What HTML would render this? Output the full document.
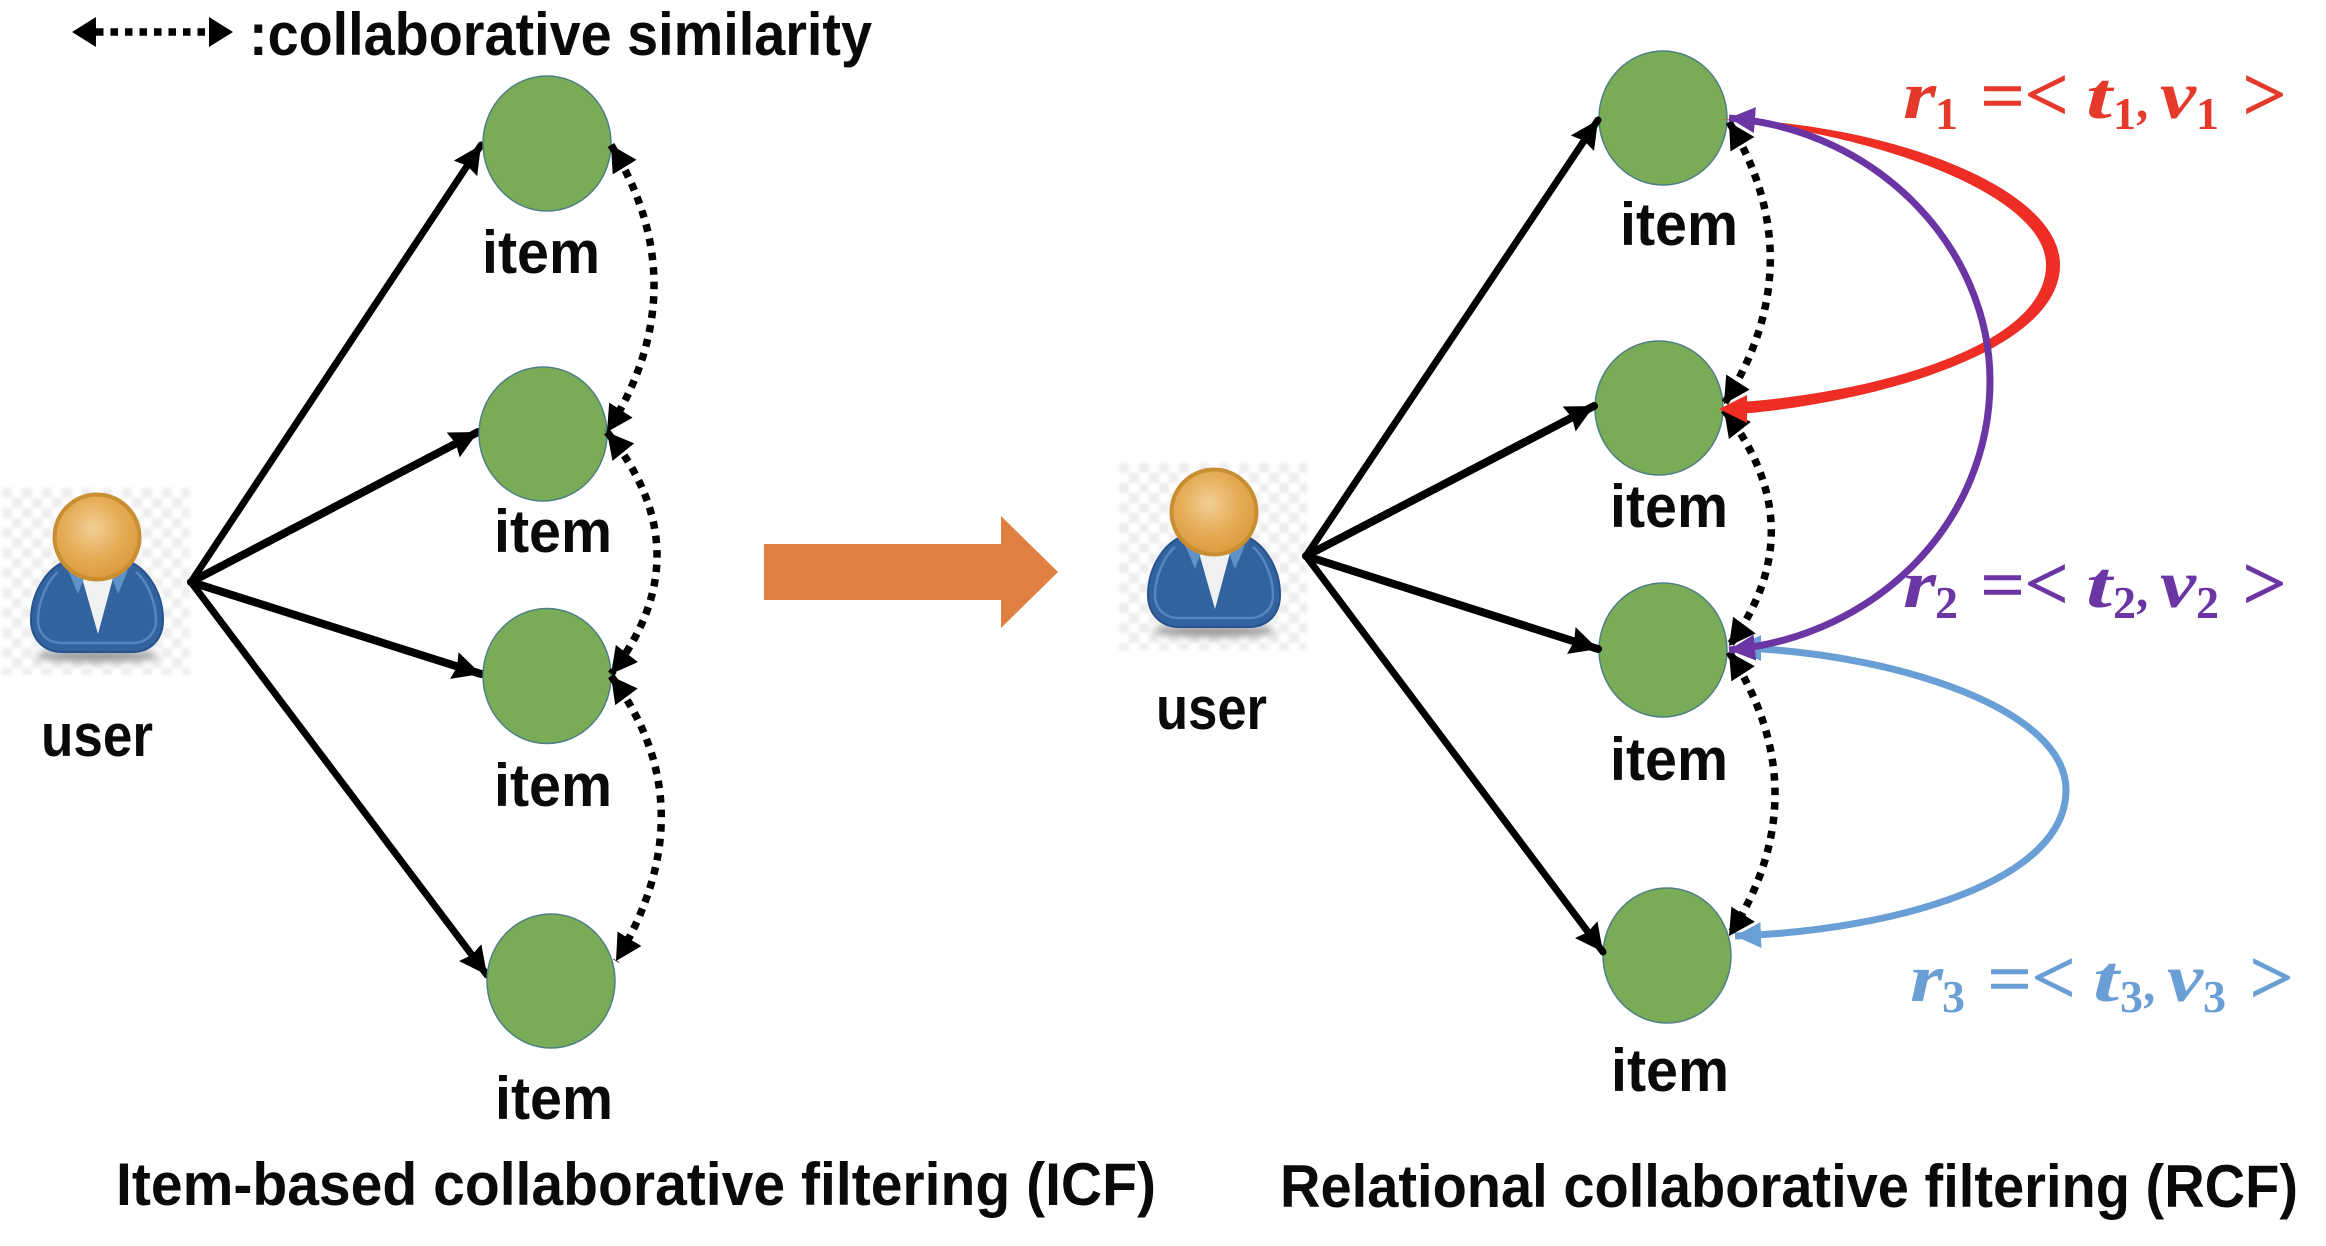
<!DOCTYPE html>
<html><head><meta charset="utf-8"><style>
html,body{margin:0;padding:0;background:#fff}
svg{display:block}
text.b{font-family:"Liberation Sans",sans-serif;font-weight:bold;fill:#0a0a0a}
text.m{font-family:"Liberation Serif",serif;font-weight:bold;font-style:italic}
text.s{font-family:"Liberation Serif",serif;font-weight:bold}
text.o{font-family:"Liberation Serif",serif;font-weight:normal;stroke-width:1.4}
</style></head><body>
<svg width="2326" height="1246" viewBox="0 0 2326 1246" xmlns="http://www.w3.org/2000/svg">
<defs>
<marker id="a" markerUnits="userSpaceOnUse" markerWidth="34" markerHeight="32" refX="28" refY="14" orient="auto-start-reverse"><path d="M0,0 L28,14 L0,28 L3,14 Z" fill="#000"/></marker>
<marker id="d" markerUnits="userSpaceOnUse" markerWidth="34" markerHeight="32" refX="26" refY="14" orient="auto-start-reverse"><path d="M0,0 L26,14 L0,28 Z" fill="#000"/></marker>
<marker id="p" markerUnits="userSpaceOnUse" markerWidth="34" markerHeight="32" refX="26" refY="13" orient="auto-start-reverse"><path d="M0,0 L26,13 L0,26 Z" fill="#6b35a3"/></marker>
<marker id="l" markerUnits="userSpaceOnUse" markerWidth="34" markerHeight="32" refX="26" refY="13" orient="auto-start-reverse"><path d="M0,0 L26,13 L0,26 Z" fill="#6a9fd6"/></marker>
<pattern id="chk" width="20" height="20" patternUnits="userSpaceOnUse" x="2" y="488"><rect width="20" height="20" fill="#fff"/><rect width="10" height="10" fill="#eeeeee"/><rect x="10" y="10" width="10" height="10" fill="#eeeeee"/></pattern>
<radialGradient id="hd" cx="45%" cy="40%" r="60%"><stop offset="0" stop-color="#f1cf94"/><stop offset="0.6" stop-color="#e5ab55"/><stop offset="1" stop-color="#dc9c3e"/></radialGradient>
<filter id="sh" x="-30%" y="-100%" width="160%" height="300%"><feGaussianBlur stdDeviation="4"/></filter>
<filter id="sf"><feGaussianBlur stdDeviation="1.6"/></filter>
<g id="ic">
<rect x="2" y="488" width="188" height="187" fill="url(#chk)" filter="url(#sf)"/>
<ellipse cx="97" cy="656" rx="62" ry="6" fill="#999" filter="url(#sh)"/>
<path d="M70,560 C50,564,31,590,31,620 C31,640,45,652,62,652 L132,652 C150,652,163,640,163,620 C163,590,144,564,124,560 Z" fill="#33639f" stroke="#28528f" stroke-width="2"/>
<path d="M58,572 C46,582,38,604,38,620 C38,634,48,643,62,643 L132,643 C146,643,156,634,156,620 C156,604,148,582,136,572" fill="none" stroke="#5586bf" stroke-width="2.5"/>
<path d="M82,578 L113,578 L98,634 Z" fill="#f0f2f2"/>
<path d="M68,570 L84,578 L78,594 Z M128,570 L112,578 L118,594 Z" fill="#5f93c8"/>
<circle cx="97" cy="537" r="42.5" fill="url(#hd)" stroke="#c98e32" stroke-width="4"/>
</g>
</defs>
<rect width="2326" height="1246" fill="#fff"/>

<!-- legend -->
<path d="M96,32 L210,32" fill="none" stroke="#000" stroke-width="7.5" stroke-dasharray="7.5 7"/>
<path d="M72,32 L96,17 L96,47 Z M233,32 L209,17 L209,47 Z" fill="#000"/>
<text class="b" x="249" y="55" font-size="60" textLength="623" lengthAdjust="spacingAndGlyphs">:collaborative similarity</text>

<!-- left -->
<use href="#ic"/>
<text class="b" x="41" y="756" font-size="60" textLength="112" lengthAdjust="spacingAndGlyphs">user</text>
<g stroke="#000" fill="none" stroke-linecap="round">
<path d="M191,582 L481,145" stroke-width="7" marker-end="url(#a)"/>
<path d="M191,582 L478,432" stroke-width="8" marker-end="url(#a)"/>
<path d="M191,582 L481,674" stroke-width="8" marker-end="url(#a)"/>
<path d="M191,582 L487,975" stroke-width="7" marker-end="url(#a)"/>
</g>
<g fill="#7aab56" stroke="#4f7f86" stroke-width="1.5">
<ellipse cx="547" cy="143.5" rx="64" ry="67.5"/>
<ellipse cx="543" cy="434" rx="64" ry="67"/>
<ellipse cx="547" cy="676" rx="64" ry="67.5"/>
<ellipse cx="551" cy="981" rx="64" ry="67"/>
<ellipse cx="1663" cy="118" rx="64" ry="67"/>
<ellipse cx="1659" cy="408" rx="64" ry="67"/>
<ellipse cx="1663" cy="650" rx="64" ry="67"/>
<ellipse cx="1667" cy="955.5" rx="64" ry="67.5"/>
</g>
<g fill="none" stroke="#000" stroke-width="7.5" stroke-dasharray="7.5 7">
<path d="M611,145 Q699,288 607,432" marker-start="url(#d)" marker-end="url(#d)"/>
<path d="M607,432 Q705,553 611,674" marker-start="url(#d)" marker-end="url(#d)"/>
<path d="M611,676 Q709,808 616,961" marker-start="url(#d)" marker-end="url(#d)"/>
</g>
<text class="b" x="482" y="273" font-size="60" textLength="118" lengthAdjust="spacingAndGlyphs">item</text>
<text class="b" x="494" y="552" font-size="60" textLength="118" lengthAdjust="spacingAndGlyphs">item</text>
<text class="b" x="494" y="806" font-size="60" textLength="118" lengthAdjust="spacingAndGlyphs">item</text>
<text class="b" x="495" y="1119" font-size="60" textLength="118" lengthAdjust="spacingAndGlyphs">item</text>
<text class="b" x="116" y="1205" font-size="60" textLength="1040" lengthAdjust="spacingAndGlyphs">Item-based collaborative filtering (ICF)</text>

<!-- orange arrow -->
<path d="M764,544 L1001,544 L1001,516 L1058,572 L1001,628 L1001,600 L764,600 Z" fill="#e07f42"/>

<!-- right -->
<use href="#ic" x="1117" y="-25"/>
<text class="b" x="1156" y="729" font-size="60" textLength="111" lengthAdjust="spacingAndGlyphs">user</text>
<g stroke="#000" fill="none" stroke-linecap="round">
<path d="M1306,556 L1598,120" stroke-width="7" marker-end="url(#a)"/>
<path d="M1306,556 L1594,406" stroke-width="8" marker-end="url(#a)"/>
<path d="M1306,556 L1598,649" stroke-width="8" marker-end="url(#a)"/>
<path d="M1306,556 L1603,952" stroke-width="7" marker-end="url(#a)"/>
</g>
<g fill="none" stroke="#000" stroke-width="7.5" stroke-dasharray="7.5 7">
<path d="M1729,122 Q1814,263 1724,404" marker-start="url(#d)" marker-end="url(#d)"/>
<path d="M1724,410 Q1816,528 1729,646" marker-start="url(#d)" marker-end="url(#d)"/>
<path d="M1729,652 Q1821,794 1729,936" marker-start="url(#d)" marker-end="url(#d)"/>
</g>
<!-- blue -->
<path d="M1745,648 C1900,655,2066,710,2066,790 C2066,880,1900,930,1735,936" fill="none" stroke="#6a9fd6" stroke-width="7" marker-end="url(#l)"/>
<path d="M1735,648 L1761,635 L1761,661 Z" fill="#6a9fd6"/>
<!-- red -->
<path d="M1721,119 C1880,122,2060,185,2060,265 C2060,350,1880,402,1740,414 L1740,402 C1880,392,2046,345,2046,265 C2046,195,1880,135,1721,119 Z" fill="#ee2d24"/>
<path d="M1719,409 L1747,395 L1747,423 Z" fill="#ee2d24"/>
<!-- purple -->
<path d="M1729,118 C1880,130,1990,250,1990,381 C1990,520,1880,636,1729,650" fill="none" stroke="#6b35a3" stroke-width="7" marker-start="url(#p)" marker-end="url(#p)"/>

<text class="b" x="1620" y="245" font-size="60" textLength="118" lengthAdjust="spacingAndGlyphs">item</text>
<text class="b" x="1610" y="527" font-size="60" textLength="118" lengthAdjust="spacingAndGlyphs">item</text>
<text class="b" x="1610" y="780" font-size="60" textLength="118" lengthAdjust="spacingAndGlyphs">item</text>
<text class="b" x="1611" y="1091" font-size="60" textLength="118" lengthAdjust="spacingAndGlyphs">item</text>
<text class="b" x="1280" y="1207" font-size="60" textLength="1018" lengthAdjust="spacingAndGlyphs">Relational collaborative filtering (RCF)</text>

<!-- math -->
<g fill="#e5392c" stroke="#e5392c">
<text class="m" stroke="none" x="1903" y="118" font-size="68" textLength="33" lengthAdjust="spacingAndGlyphs">r</text><text class="s" stroke="none" x="1935" y="129" font-size="46">1</text>
<text class="o" x="1981" y="120" font-size="72" textLength="43" lengthAdjust="spacingAndGlyphs">=</text><text class="o" x="2025" y="120" font-size="76">&lt;</text>
<text class="m" stroke="none" x="2086" y="118" font-size="66" textLength="26" lengthAdjust="spacingAndGlyphs">t</text><text class="s" stroke="none" x="2113" y="129" font-size="46">1</text><text class="m" stroke="none" x="2138" y="118" font-size="50">,</text>
<text class="m" stroke="none" x="2160" y="118" font-size="68" textLength="36" lengthAdjust="spacingAndGlyphs">v</text><text class="s" stroke="none" x="2196" y="129" font-size="46">1</text>
<text class="o" x="2243" y="120" font-size="76">&gt;</text>
</g>
<g fill="#6b35a3" stroke="#6b35a3">
<text class="m" stroke="none" x="1903" y="607" font-size="68" textLength="33" lengthAdjust="spacingAndGlyphs">r</text><text class="s" stroke="none" x="1935" y="618" font-size="46">2</text>
<text class="o" x="1981" y="609" font-size="72" textLength="43" lengthAdjust="spacingAndGlyphs">=</text><text class="o" x="2025" y="609" font-size="76">&lt;</text>
<text class="m" stroke="none" x="2086" y="607" font-size="66" textLength="26" lengthAdjust="spacingAndGlyphs">t</text><text class="s" stroke="none" x="2113" y="618" font-size="46">2</text><text class="m" stroke="none" x="2138" y="607" font-size="50">,</text>
<text class="m" stroke="none" x="2160" y="607" font-size="68" textLength="36" lengthAdjust="spacingAndGlyphs">v</text><text class="s" stroke="none" x="2196" y="618" font-size="46">2</text>
<text class="o" x="2243" y="609" font-size="76">&gt;</text>
</g>
<g fill="#6a9fd6" stroke="#6a9fd6">
<text class="m" stroke="none" x="1910" y="1001" font-size="68" textLength="33" lengthAdjust="spacingAndGlyphs">r</text><text class="s" stroke="none" x="1942" y="1012" font-size="46">3</text>
<text class="o" x="1988" y="1003" font-size="72" textLength="43" lengthAdjust="spacingAndGlyphs">=</text><text class="o" x="2032" y="1003" font-size="76">&lt;</text>
<text class="m" stroke="none" x="2093" y="1001" font-size="66" textLength="26" lengthAdjust="spacingAndGlyphs">t</text><text class="s" stroke="none" x="2120" y="1012" font-size="46">3</text><text class="m" stroke="none" x="2145" y="1001" font-size="50">,</text>
<text class="m" stroke="none" x="2167" y="1001" font-size="68" textLength="36" lengthAdjust="spacingAndGlyphs">v</text><text class="s" stroke="none" x="2203" y="1012" font-size="46">3</text>
<text class="o" x="2250" y="1003" font-size="76">&gt;</text>
</g>
</svg>
</body></html>
